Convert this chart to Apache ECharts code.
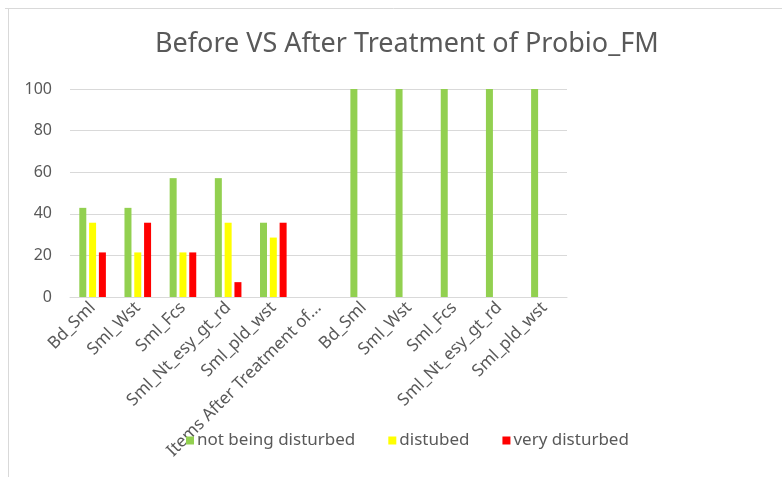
<!doctype html>
<html lang="en">
<head>
    <meta charset="UTF-8">
    <title>Before VS After Treatment of Probio_FM</title>
    <style>
        html, body { margin: 0; padding: 0; background: #fff; }
        #chart { width: 782px; height: 477px; }
    </style>
</head>
<body>
<div id="chart"></div>
<script src="https://cdn.jsdelivr.net/npm/echarts@6/dist/echarts.min.js"></script>
<script>
    // categories (before / after)
    var categories = ['Bd_Sml', 'Sml_Wst', 'Sml_Fcs', 'Sml_Nt_esy_gt_rd', 'Sml_pld_wst',
        'Items After Treatment of Probio_FM',
        'Bd_Sml', 'Sml_Wst', 'Sml_Fcs', 'Sml_Nt_esy_gt_rd', 'Sml_pld_wst'];
    var notDisturbed = [42.86, 42.86, 57.14, 57.14, 35.71, 0, 100, 100, 100, 100, 100];
    var distubed = [35.71, 21.43, 21.43, 35.71, 28.57, 0, 0, 0, 0, 0, 0];
    var veryDisturbed = [21.43, 35.71, 21.43, 7.14, 35.71, 0, 0, 0, 0, 0, 0];
    var yTicks = [0, 20, 40, 60, 80, 100];

    var font = 'Noto Sans';
    var grey = '#595959';
    var lineGrey = '#D9D9D9';

    var myChart = echarts.init(document.getElementById('chart'));

    function barSeries(name, data, color) {
        return {
            name: name,
            type: 'bar',
            data: data,
            barWidth: 7,
            barGap: '40%',
            itemStyle: {color: color},
            animation: false
        };
    }

    myChart.setOption({
        backgroundColor: '#fff',
        title: {
            text: 'Before VS After Treatment of Probio_FM',
            left: 150,
            top: 26,
            textStyle: {fontFamily: font, fontSize: 27, fontWeight: 'normal', color: grey}
        },
        legend: {
            left: 181,
            top: 427,
            itemWidth: 8,
            itemHeight: 8,
            itemGap: 33,
            icon: 'rect',
            textStyle: {fontFamily: font, fontSize: 17, color: grey, padding: [0, 0, 0, -2]},
            data: ['not being disturbed', 'distubed', 'very disturbed']
        },
        grid: {
            left: 70,
            right: 215,
            top: 89,
            bottom: 180,
            containLabel: false
        },
        xAxis: {
            type: 'category',
            data: categories,
            axisLine: {lineStyle: {color: lineGrey}},
            axisTick: {show: false},
            axisLabel: {
                rotate: 45,
                interval: 0,
                margin: 8,
                fontFamily: font,
                fontSize: 17,
                color: grey,
                formatter: function (v) {
                    return v.length > 24 ? v.slice(0, 24) + '...' : v;
                }
            }
        },
        yAxis: {
            type: 'value',
            min: yTicks[0],
            max: yTicks[yTicks.length - 1],
            interval: 20,
            axisLine: {show: false},
            axisTick: {show: false},
            splitLine: {lineStyle: {color: lineGrey, width: 1}},
            axisLabel: {fontFamily: font, fontSize: 16, color: grey, margin: 18}
        },
        graphic: [
            {type: 'line', shape: {x1: 5, y1: 8.5, x2: 782, y2: 8.5}, style: {stroke: lineGrey, lineWidth: 1}},
            {type: 'line', shape: {x1: 8.5, y1: 8, x2: 8.5, y2: 477}, style: {stroke: lineGrey, lineWidth: 1}}
        ],
        series: [
            barSeries('not being disturbed', notDisturbed, '#92D050'),
            barSeries('distubed', distubed, '#FFFF00'),
            barSeries('very disturbed', veryDisturbed, '#FF0000')
        ]
    });
</script>
</body>
</html>
